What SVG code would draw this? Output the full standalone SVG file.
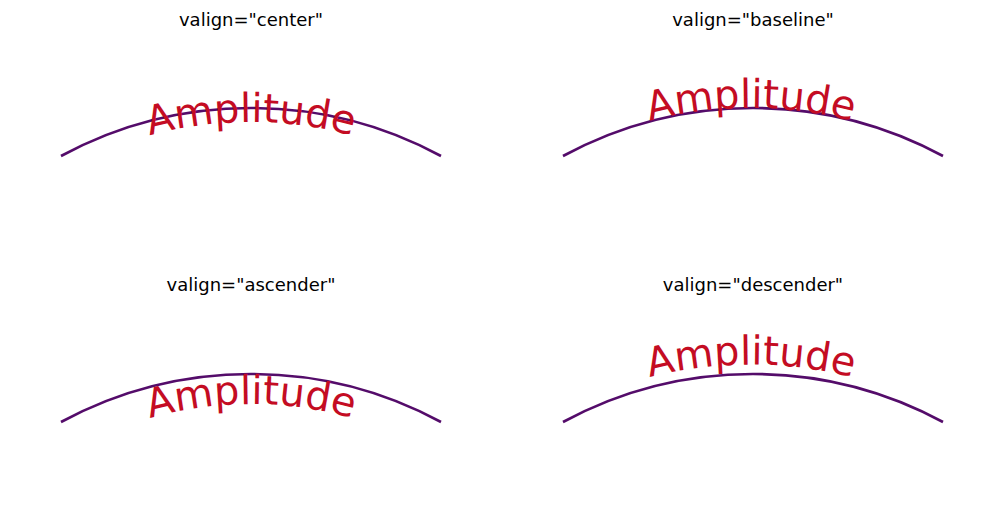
<svg xmlns="http://www.w3.org/2000/svg" width="1003" height="531" viewBox="0 0 1003 531">
<style>
.t{font-family:"DejaVu Sans",sans-serif;font-size:18px;fill:#000;text-anchor:middle}
.arc{fill:none;stroke:#540c6a;stroke-width:2.6}
.a{font-family:"DejaVu Sans",sans-serif;font-size:40px;fill:#c40c23;text-anchor:middle}
</style>
<defs>
<path id="c1" d="M58,173.7 A386,386 0 0 1 444,173.7"/>
<path id="b1" d="M551,161.6 A400,400 0 0 1 951,161.6"/>
<path id="s1" d="M66,453.6 A370,370 0 0 1 436,453.6"/>
<path id="d1" d="M546.25,419.4 A409.5,409.5 0 0 1 955.75,419.4"/>
</defs>
<rect width="1003" height="531" fill="#fff"/>
<g id="connectors">
<path class="arc" d="M61,156 A400,400 0 0 1 441,156"/>
<path class="arc" d="M563,156 A400,400 0 0 1 943,156"/>
<path class="arc" d="M61,422 A400,400 0 0 1 441,422"/>
<path class="arc" d="M563,422 A400,400 0 0 1 943,422"/>
</g>
<g id="p1"><text class="t" x="251" y="26">valign="center"</text>
<text class="a"><textPath href="#c1" startOffset="50%">Amplitude</textPath></text></g>
<g id="p2"><text class="t" x="753" y="26">valign="baseline"</text>
<text class="a"><textPath href="#b1" startOffset="50%">Amplitude</textPath></text></g>
<g id="p3"><text class="t" x="251" y="291">valign="ascender"</text>
<text class="a"><textPath href="#s1" startOffset="50%">Amplitude</textPath></text></g>
<g id="p4"><text class="t" x="753" y="291">valign="descender"</text>
<text class="a"><textPath href="#d1" startOffset="50%">Amplitude</textPath></text></g>
</svg>
